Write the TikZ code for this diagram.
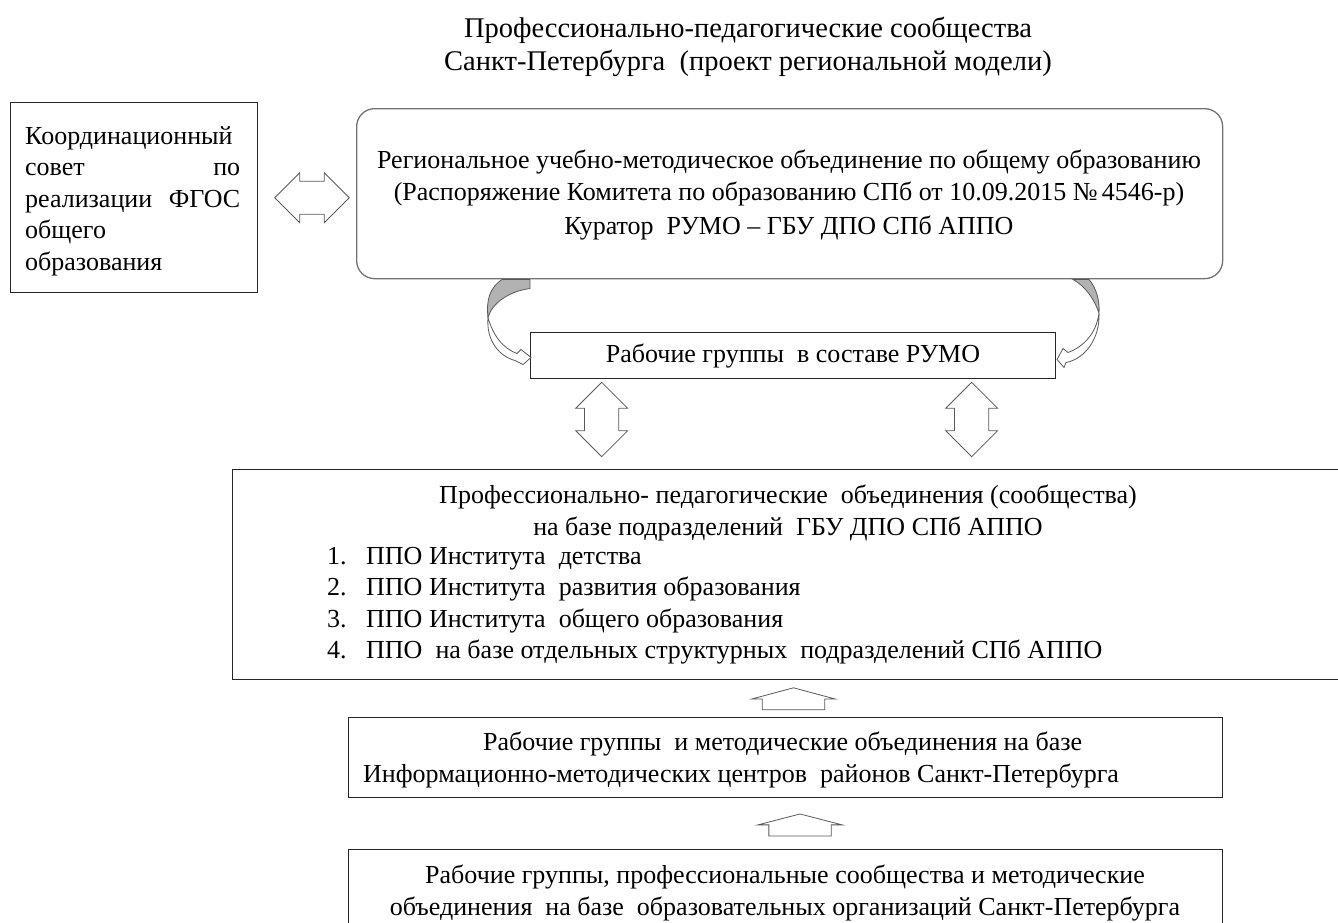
\documentclass[tikz,border=0pt]{standalone}
\usepackage{fontspec}
\setmainfont{Liberation Serif}
\usetikzlibrary{positioning,shapes.arrows,calc}

\begin{document}
\begin{tikzpicture} [x=1pt, y=-1pt,
		every node/.style={inner sep=0pt, font=\fontsize{26}{31.5}\selectfont},
		box/.style={draw=black!85, line width=1pt, rectangle, anchor=north west},
		roundbox/.style={draw=black!55, line width=1.3pt, rounded corners=18pt, anchor=north west},
		txt/.style={align=center, anchor=north},
		dblarrow/.style={double arrow, draw=black!65, fill=white, line width=0.8pt,
			double arrow tip angle=90, inner xsep=0pt, inner ysep=13.35pt,
			minimum width=51pt, minimum height=74.5pt},
		uparrow/.style={single arrow, draw=black!65, fill=white, line width=0.8pt,
			single arrow tip angle=150, rotate=90, inner xsep=0pt, inner ysep=21.5pt,
			minimum width=83pt, minimum height=22pt},
		ribbon/.style={draw=black!65, line width=0.8pt, fill=white},
		ribbonback/.style={draw=black!65, line width=0.8pt, fill=black!30}
	]
	\useasboundingbox (0,0) rectangle (1338,922);

	% title
	\node (title) [txt, font=\fontsize{28.5}{33}\selectfont] at (748,17) {Профессионально-педагогические сообщества\\
		Санкт-Петербурга\ \ (проект региональной модели)};

	% top level
	\node (kc) [box, minimum width=247pt, minimum height=190pt] at (10,102) {};
	\node (kctext) [anchor=north west, text width=215pt, align=left] at (25,126)
		{Координационный\\ совет \hfill по\\ реализации\hfill ФГОС\\ общего\\ образования};

	\node (rumo) [roundbox, minimum width=866pt, minimum height=170pt] at (356,108) {};
	\node (rumotext) [txt] at (789,150)
		{Региональное учебно-методическое объединение по общему образованию\\
		(Распоряжение Комитета по образованию СПб от 10.09.2015 №\,4546-р)\\[3pt]
		Куратор\ \ РУМО -- ГБУ ДПО СПб АППО};

	\node (a0) [dblarrow, minimum width=50pt] at (312,197.7) {};

	% working groups
	\node (wg) [box, minimum width=525pt, minimum height=46pt] at (530,332)
		{Рабочие группы\ \ в составе РУМО};

	\begin{scope}[shift={(wg.west)}]
		\path [ribbonback] (-28,-76) -- (0,-76) -- (0,-67) .. controls (-22,-64) and (-38,-52) .. (-42,-38)
			.. controls (-44,-56) and (-40,-68) .. (-28,-76) -- cycle;
		\path [ribbon] (-42,-38) .. controls (-44,-14) and (-30,1) .. (-15,5) -- (-7,9)
			-- (1,2) -- (-9,-6) -- (-13,-2) .. controls (-27,-7) and (-37,-20) .. (-42,-38) -- cycle;
	\end{scope}
	\begin{scope}[shift={(wg.east)}]
		\path [ribbonback] (17,-76) -- (33,-76) .. controls (40,-68) and (44,-55) .. (43,-42)
			.. controls (38,-58) and (28,-70) .. (17,-76) -- cycle;
		\path [ribbon] (43,-42) .. controls (44,-18) and (30,3) .. (10,7) -- (8,12)
			-- (1,4) -- (7,-7) -- (12,-3) .. controls (28,-9) and (40,-22) .. (43,-42) -- cycle;
	\end{scope}

	\node (a1) [dblarrow, rotate=90, minimum width=52pt, minimum height=74.4pt] at (601.7,419.5) {};
	\node (a2) [dblarrow, rotate=90, minimum width=52pt, minimum height=74.4pt] at (971.7,419.5) {};

	% professional communities
	\node (ppo) [box, minimum width=1110pt, minimum height=210pt] at (232,469) {};
	\node (ppohead) [txt] at (788,485)
		{Профессионально- педагогические\ \ объединения (сообщества)\\
		на базе подразделений\ \ ГБУ ДПО СПб АППО};
	\node (ppolist) [anchor=north west, align=left] at (327,547)
		{\makebox[39pt][l]{1.}ППО Института\ \ детства\\
		\makebox[39pt][l]{2.}ППО Института\ \ развития образования\\
		\makebox[39pt][l]{3.}ППО Института\ \ общего образования\\
		\makebox[39pt][l]{4.}ППО\ \ на базе отдельных структурных\ \ подразделений СПб АППО};

	\node (a3) [uparrow] at (793.5,703) {};

	% district level
	\node (imc) [box, minimum width=874pt, minimum height=80pt] at (348,717) {};
	\node (imctext) [anchor=north west, align=left] at (363,732)
		{\hspace*{120pt}Рабочие группы\ \ и методические объединения на базе\\
		Информационно-методических центров\ \ районов Санкт-Петербурга};

	\node (a4) [uparrow, single arrow tip angle=151, inner ysep=20pt, minimum width=84pt] at (800,829) {};

	% school level
	\node (oo) [box, minimum width=874pt, minimum height=100pt] at (348,849) {};
	\node (ootext) [txt] at (785,865)
		{Рабочие группы,\ профессиональные сообщества и методические\\
		объединения\ \ на базе\ \ образовательных организаций Санкт-Петербурга};

\end{tikzpicture}
\end{document}
